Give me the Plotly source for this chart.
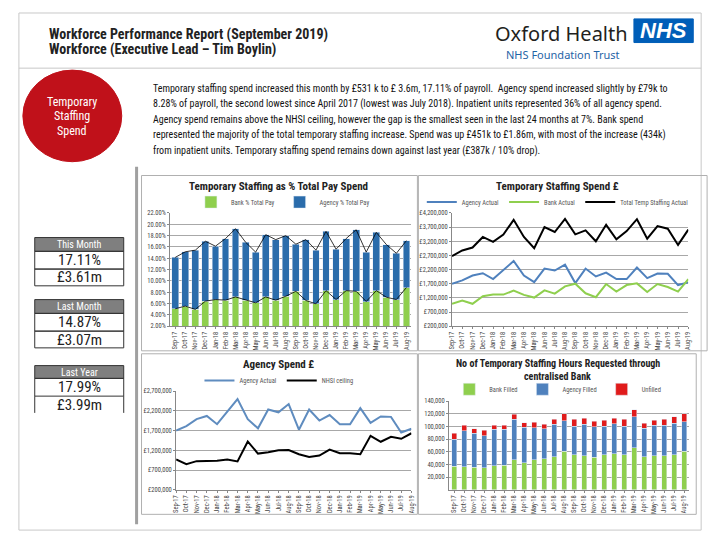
import plotly.graph_objects as go

# page is drawn inside the browser body, which has an 8px default margin
OFF = 8
W, H = 720 - OFF, 540 - OFF
def X(p): return (p - OFF) / W
def Y(p): return 1 - (p - OFF) / H

months = ["Sep-17", "Oct-17", "Nov-17", "Dec-17", "Jan-18", "Feb-18", "Mar-18", "Apr-18",
          "May-18", "Jun-18", "Jul-18", "Aug-18", "Sep-18", "Oct-18", "Nov-18", "Dec-18",
          "Jan-19", "Feb-19", "Mar-19", "Apr-19", "May-19", "Jun-19", "Jul-19", "Aug-19"]

# Chart 1: Temporary staffing as % of total pay
bank_pct = [5.08, 5.55, 4.97, 6.42, 6.71, 6.60, 7.17, 6.60, 6.13, 7.17, 6.60, 7.29,
            8.16, 6.54, 5.95, 8.28, 6.71, 8.28, 8.16, 6.36, 8.28, 7.12, 6.71, 8.83]
agency_pct = [9.07, 9.59, 10.46, 10.58, 9.42, 10.87, 12.04, 10.23, 8.95, 10.99, 10.69, 10.70,
              8.32, 10.75, 9.48, 10.46, 8.89, 9.19, 10.87, 8.72, 10.29, 9.30, 8.16, 8.28]

# Chart 2: Temporary staffing spend £
agency_spend = [1700000, 1816000, 1991000, 2072000, 1863000, 2188000, 2502000, 1991000,
                1758000, 2235000, 2165000, 2374000, 1723000, 2235000, 1956000, 2095000,
                1863000, 1863000, 2270000, 1898000, 2060000, 2049000, 1653000, 1747000]
bank_spend = [991000, 1107000, 991000, 1258000, 1316000, 1316000, 1456000, 1305000,
              1212000, 1467000, 1351000, 1607000, 1700000, 1363000, 1223000, 1688000,
              1421000, 1653000, 1712000, 1409000, 1688000, 1584000, 1421000, 1860000]
total_spend = [2677000, 2874000, 2979000, 3351000, 3177000, 3433000, 3956000, 3351000,
               2956000, 3700000, 3526000, 3990000, 3444000, 3584000, 3200000, 3781000,
               3270000, 3560000, 3980000, 3293000, 3735000, 3642000, 3070000, 3610000]

# Chart 3: Agency spend vs NHSI ceiling
nhsi_ceiling = [967000, 850000, 925000, 933000, 933000, 967000, 917000, 1425000,
                1117000, 1150000, 1200000, 1208000, 1100000, 1033000, 1067000, 1217000,
                1125000, 1125000, 1100000, 1567000, 1417000, 1542000, 1492000, 1633000]

# Chart 4: hours requested through centralised bank
bank_hours = [37300, 36300, 35200, 34700, 37800, 38900, 47200, 42500, 47200, 49200, 51800, 61100,
              55400, 53400, 51300, 55400, 56500, 55400, 66300, 52300, 53400, 53900, 55400, 61100]
agency_hours = [42000, 57000, 53900, 50800, 57500, 56400, 63700, 56500, 50700, 46700, 51300, 47700,
                45100, 49700, 48200, 45100, 47600, 45100, 49200, 45100, 48200, 47700, 49800, 46200]
unfilled_hours = [9800, 8800, 6800, 8800, 6800, 6300, 8300, 6700, 8300, 7700, 7800, 10900,
                  10400, 9900, 8800, 9300, 8900, 10900, 10400, 7300, 8200, 9300, 9800, 12900]

kpi_heads = ["This Month", "Last Month", "Last Year"]
kpi_pct = ["17.11%", "14.87%", "17.99%"]
kpi_spend = ["£3.61m", "£3.07m", "£3.99m"]

para_lines = [
    "Temporary staffing spend increased this month by £531 k to £ 3.6m, 17.11% of payroll.  Agency spend increased slightly by £79k to",
    "8.28% of payroll, the second lowest since April 2017 (lowest was July 2018). Inpatient units represented 36% of all agency spend.",
    "Agency spend remains above the NHSI ceiling, however the gap is the smallest seen in the last 24 months at 7%. Bank spend",
    "represented the majority of the total temporary staffing increase. Spend was up £451k to £1.86m, with most of the increase (434k)",
    "from inpatient units. Temporary staffing spend remains down against last year (£387k / 10% drop).",
]

NARROW = "Liberation Sans Narrow, Arial Narrow, Roboto Condensed, Liberation Sans, sans-serif"
GREEN = "#8fcf4e"
BLUE1 = "#2a6cab"
BLUE4 = "#4f81bd"
LBLUE = "#5f8cbf"
RED = "#e01b1b"

fig = go.Figure()

# ---------- chart 1 ----------
fig.add_trace(go.Bar(x=months, y=bank_pct, name="Bank % Total Pay", marker_color=GREEN,
                     width=0.68, xaxis="x", yaxis="y", legend="legend"))
fig.add_trace(go.Bar(x=months, y=agency_pct, name="Agency % Total Pay", marker_color=BLUE1,
                     width=0.68, xaxis="x", yaxis="y", legend="legend"))
fig.add_trace(go.Scatter(x=months, y=bank_pct, mode="lines", line=dict(color="black", width=0.8),
                         stackgroup="c1", fill="none", showlegend=False, xaxis="x", yaxis="y",
                         hoverinfo="skip"))
fig.add_trace(go.Scatter(x=months, y=agency_pct, mode="lines", line=dict(color="black", width=0.8),
                         stackgroup="c1", fill="none", showlegend=False, xaxis="x", yaxis="y",
                         hoverinfo="skip"))

# ---------- chart 2 ----------
fig.add_trace(go.Scatter(x=months, y=agency_spend, mode="lines", name="Agency Actual",
                         line=dict(color=BLUE4, width=2), xaxis="x2", yaxis="y2", legend="legend2"))
fig.add_trace(go.Scatter(x=months, y=bank_spend, mode="lines", name="Bank Actual",
                         line=dict(color=GREEN, width=2), xaxis="x2", yaxis="y2", legend="legend2"))
fig.add_trace(go.Scatter(x=months, y=total_spend, mode="lines", name="Total Temp Staffing Actual",
                         line=dict(color="black", width=2), xaxis="x2", yaxis="y2", legend="legend2"))

# ---------- chart 3 ----------
fig.add_trace(go.Scatter(x=months, y=agency_spend, mode="lines", name="Agency Actual",
                         line=dict(color=LBLUE, width=2), xaxis="x3", yaxis="y3", legend="legend3"))
fig.add_trace(go.Scatter(x=months, y=nhsi_ceiling, mode="lines", name="NHSI ceiling",
                         line=dict(color="black", width=2), xaxis="x3", yaxis="y3", legend="legend3"))

# ---------- chart 4 ----------
fig.add_trace(go.Bar(x=months, y=bank_hours, name="Bank Filled", marker_color=GREEN, width=0.5,
                     xaxis="x4", yaxis="y4", legend="legend4"))
fig.add_trace(go.Bar(x=months, y=agency_hours, name="Agency Filled", marker_color=BLUE4, width=0.5,
                     xaxis="x4", yaxis="y4", legend="legend4"))
fig.add_trace(go.Bar(x=months, y=unfilled_hours, name="Unfilled", marker_color=RED, width=0.5,
                     xaxis="x4", yaxis="y4", legend="legend4"))

tickfont = dict(family=NARROW, size=6.5, color="#444")
grid = "#a8a8a8"

def xax(dom, anchor):
    return dict(domain=[X(dom[0]), X(dom[1])], anchor=anchor, type="category", tickangle=-90,
                tickfont=tickfont, showline=True, linecolor="#888", linewidth=1,
                ticks="outside", ticklen=2, tickcolor="#888", showgrid=False, fixedrange=True)

def yax(dom, anchor, rng, dtick, **kw):
    d = dict(domain=[Y(dom[1]), Y(dom[0])], anchor=anchor, range=rng, dtick=dtick, tick0=rng[0],
             tickfont=tickfont, showline=True, linecolor="#888", linewidth=1,
             ticks="outside", ticklen=2, tickcolor="#888",
             showgrid=True, gridcolor=grid, gridwidth=1, zeroline=False, fixedrange=True)
    d.update(kw)
    return d

layout = dict(
    width=W, height=H, margin=dict(l=0, r=0, t=0, b=0),
    paper_bgcolor="white", plot_bgcolor="white", barmode="stack",
    font=dict(family=NARROW, color="#222"),
    xaxis=xax((168, 412), "y"),
    yaxis=yax((212, 327), "x", [2, 22], 2, tickformat=".2f", ticksuffix="%"),
    xaxis2=xax((453, 692), "y2"),
    yaxis2=yax((212, 327), "x2", [200000, 4200000], 500000, tickformat=",.0f", tickprefix="£"),
    xaxis3=xax((174, 412), "y3"),
    yaxis3=yax((393, 493), "x3", [200000, 2700000], 500000, tickformat=",.0f", tickprefix="£"),
    xaxis4=xax((450, 693), "y4"),
    yaxis4=yax((403, 493), "x4", [0, 140000], 20000, tickformat=",.0f",
               tickvals=[20000, 40000, 60000, 80000, 100000, 120000, 140000]),
)

legfont = dict(family=NARROW, size=6.5, color="#555")
def leg(cx, cy):
    return dict(x=X(cx), y=Y(cy), xanchor="center", yanchor="middle", orientation="h",
                font=legfont, bgcolor="rgba(0,0,0,0)", itemwidth=30, tracegroupgap=0,
                traceorder="normal")
layout["legend"] = leg(282, 201)
layout["legend2"] = leg(560, 201)
layout["legend3"] = leg(278, 382)
layout["legend4"] = leg(560, 391)
fig.update_layout(**layout)

shapes = []
def rect(x0, y0, x1, y1, line="#c8c8c8", lw=1, fill=None):
    s = dict(type="rect", xref="paper", yref="paper", x0=X(x0), x1=X(x1), y0=Y(y1), y1=Y(y0),
             line=dict(color=line, width=lw), layer="below")
    if fill:
        s["fillcolor"] = fill
    shapes.append(s)

def line(x0, y0, x1, y1, color="#c8c8c8", lw=1):
    shapes.append(dict(type="line", xref="paper", yref="paper", x0=X(x0), x1=X(x1),
                       y0=Y(y0), y1=Y(y1), line=dict(color=color, width=lw)))

# page frame
rect(15, 9, 705, 534)
line(15, 65, 705, 65)
# thick divider
line(134, 165, 134, 528, color="#a0a0a0", lw=3)
# chart frames
rect(139, 174, 418, 352, line="#b0b0b0")
rect(419, 174, 711, 352, line="#b0b0b0")
rect(139, 355, 418, 518, line="#b0b0b0")
rect(419, 355, 700, 518, line="#b0b0b0")

# red circle
shapes.append(dict(type="circle", xref="paper", yref="paper", x0=X(19), x1=X(119),
                   y0=Y(160), y1=Y(67), fillcolor="#c0111a", line=dict(color="#c0111a", width=1)))

# NHS logo box
rect(637, 15, 697, 39, line="#005eb8", fill="#005eb8")

# KPI boxes
kpi_tops = [237, 300, 367]
for i, top in enumerate(kpi_tops):
    hh = 14 if i < 2 else 13
    rect(31, top, 121, top + hh, line="#333", fill="#7f7f7f")
    r1 = top + hh + 18
    r2 = r1 + 17
    if i < 2:
        rect(31, top + hh, 121, r1, line="#333")
        rect(31, r1, 121, r2, line="#333")
    else:
        rect(31, top + hh, 121, r1, line="#333")
        line(31, r1, 31, r2, color="#333")
        line(121, r1, 121, r2, color="#333")

fig.update_layout(shapes=shapes)

ann = []
def text(x, y, s, size, color="#222", bold=False, xanchor="left", family=NARROW, yanchor="middle"):
    if bold:
        s = "<b>" + s + "</b>"
    ann.append(dict(x=X(x), y=Y(y), xref="paper", yref="paper", text=s, showarrow=False,
                    xanchor=xanchor, yanchor=yanchor, font=dict(size=size, color=color, family=family),
                    align="left"))

text(43, 31, "Workforce Performance Report (September 2019)", 14, bold=True)
text(43, 46, "Workforce (Executive Lead – Tim Boylin)", 14, bold=True)
text(494, 30, "Oxford Health", 20, color="#231f20", family="Noto Sans, Open Sans, sans-serif")
text(565, 51, "NHS Foundation Trust", 11, color="#1f64a6", xanchor="center",
     family="Noto Sans, Open Sans, sans-serif")
ann.append(dict(x=X(667), y=Y(27), xref="paper", yref="paper", text="<b><i>NHS</i></b>",
                showarrow=False, xanchor="center", yanchor="middle",
                font=dict(size=22, color="white", family="Liberation Sans, Arial, sans-serif")))

for i, s in enumerate(["Temporary", "Staffing", "Spend"]):
    text(69, 99 + 15 * i, s, 12, color="white", xanchor="center")

for i, ln in enumerate(para_lines):
    text(149, 86 + 15.7 * i, ln, 10, color="#111")

for i, top in enumerate(kpi_tops):
    hh = 14 if i < 2 else 13
    text(76, top + hh / 2, kpi_heads[i], 10, color="white", xanchor="center")
    text(76, top + hh + 9, kpi_pct[i], 15, color="#222", xanchor="center")
    text(76, top + hh + 26.5, kpi_spend[i], 15, color="#222", xanchor="center")

# chart titles
text(278, 185, "Temporary Staffing as % Total Pay Spend", 11, bold=True, xanchor="center")
text(560, 185, "Temporary Staffing Spend £", 11, bold=True, xanchor="center")
text(278, 366, "Agency Spend £", 11, bold=True, xanchor="center")
text(560, 365, "No of Temporary Staffing Hours Requested through", 10, bold=True, xanchor="center")
text(560, 378, "centralised Bank", 10, bold=True, xanchor="center")

fig.update_layout(annotations=ann)
fig.write_html("out.html")
